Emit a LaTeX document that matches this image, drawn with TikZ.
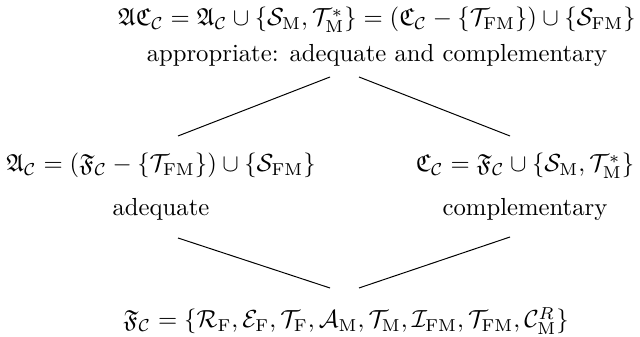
\documentclass[tikz,border=0pt]{standalone}
\usepackage{amsmath, amssymb}
\usepackage{tikz}
\usetikzlibrary{positioning, calc}

\newcommand{\Cc}{\mathcal{C}}
\newcommand{\sub}[1]{_{\mathrm{#1}}}

\begin{document}
\begin{tikzpicture}[
x=0.405pt, y=-0.405pt,
every node/.style={inner sep=1pt},
formula/.style={anchor=base},
link/.style={thin}
]
\useasboundingbox (0,0) rectangle (640,337);

\node[formula] (appc) at (377,26)
{$\mathfrak{AC}_{\Cc} = \mathfrak{A}_{\Cc} \cup \{\mathcal{S}\sub{M}, \mathcal{T}^{*}\sub{M}\} = (\mathfrak{C}_{\Cc} - \{\mathcal{T}\sub{FM}\}) \cup \{\mathcal{S}\sub{FM}\}$};
\node[below=2.4pt of appc] (appr) {appropriate: adequate and complementary};

\node[formula] (adc) at (161,172)
{$\mathfrak{A}_{\Cc} = (\mathfrak{F}_{\Cc} - \{\mathcal{T}\sub{FM}\}) \cup \{\mathcal{S}\sub{FM}\}$};
\node[below=5.6pt of adc] (adeq) {adequate};

\node[formula] (cmc) at (525,172)
{$\mathfrak{C}_{\Cc} = \mathfrak{F}_{\Cc} \cup \{\mathcal{S}\sub{M}, \mathcal{T}^{*}\sub{M}\}$};
\node[below=5.6pt of cmc] (comp) {complementary};

\node[formula] (frc) at (346,328)
{$\mathfrak{F}_{\Cc} = \{\mathcal{R}\sub{F}, \mathcal{E}\sub{F}, \mathcal{T}\sub{F}, \mathcal{A}\sub{M}, \mathcal{T}\sub{M}, \mathcal{I}\sub{FM}, \mathcal{T}\sub{FM}, \mathcal{C}^{R}\sub{M}\}$};

% line ends
\coordinate (appr-l) at (330,77);
\coordinate (appr-r) at (359,77);
\coordinate (adc-t) at (178,136);
\coordinate (cmc-t) at (510,136);
\coordinate (adeq-b) at (178,238);
\coordinate (comp-b) at (510,237);
\coordinate (frc-l) at (330,288);
\coordinate (frc-r) at (359,288);

\draw[link] (appr-l) -- (adc-t);
\draw[link] (appr-r) -- (cmc-t);
\draw[link] (adeq-b) -- (frc-l);
\draw[link] (comp-b) -- (frc-r);

\end{tikzpicture}
\end{document}
